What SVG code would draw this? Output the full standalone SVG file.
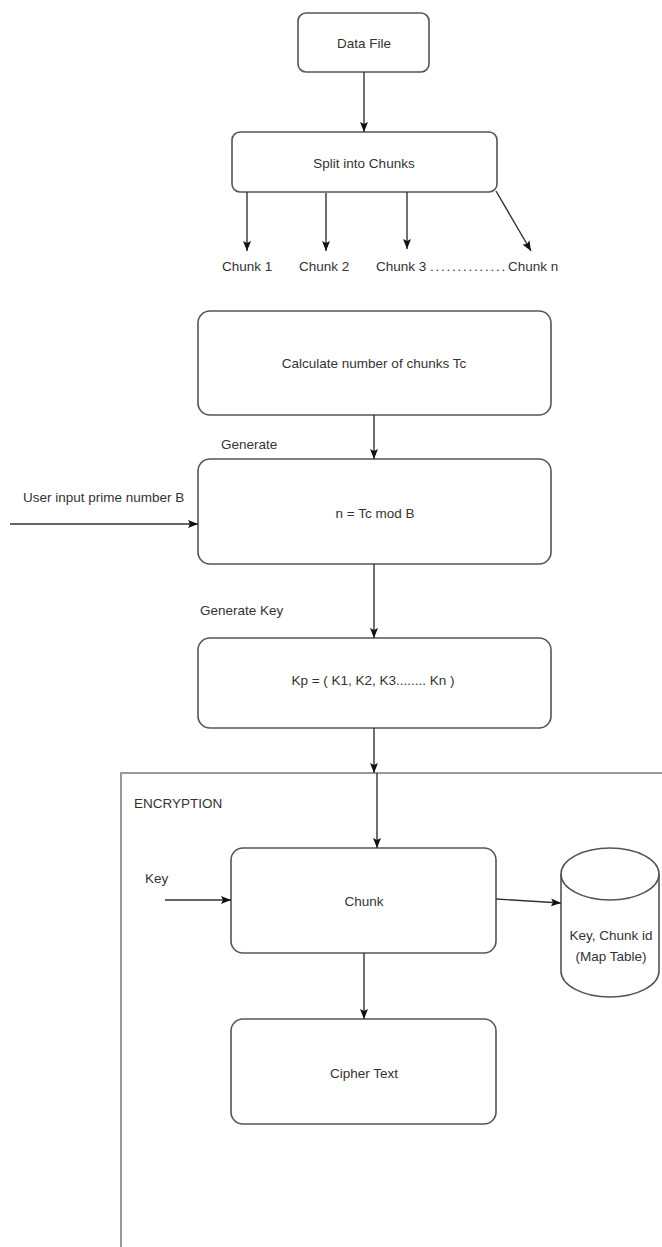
<svg xmlns="http://www.w3.org/2000/svg" width="662" height="1247" viewBox="0 0 662 1247">
<defs>
<marker id="ah" markerUnits="userSpaceOnUse" markerWidth="10" markerHeight="10" viewBox="0 0 10 10" refX="10" refY="5" orient="auto">
<path d="M0,1 L10,5 L0,9 L2,5 Z" fill="#111"/>
</marker>
</defs>
<style>
text{font-family:"Liberation Sans",Arial,sans-serif;font-size:13.5px;fill:#333}
.box{fill:#fff;stroke:#555;stroke-width:1.6}
.c{text-anchor:middle}
.conn line,.conn path{stroke:#333;stroke-width:1.4;fill:none}
.frame{fill:none;stroke:#999;stroke-width:2}
</style>
<rect width="662" height="1247" fill="#fff"/>
<g id="encryption">
<path class="frame" d="M121,1247 L121,773 L662,773"/>
<text x="134" y="808">ENCRYPTION</text>
</g>
<g id="data-file">
<rect class="box" x="298" y="13" width="131" height="59" rx="8"/>
<text class="c" x="364" y="48">Data File</text>
</g>
<g id="split">
<rect class="box" x="232" y="132" width="265" height="60" rx="8"/>
<text class="c" x="364" y="168">Split into Chunks</text>
</g>
<g id="chunk-labels">
<text x="222" y="271">Chunk 1</text>
<text x="299" y="271">Chunk 2</text>
<text x="376" y="271">Chunk 3</text>
<text x="430" y="271" style="letter-spacing:1.75px">..............</text>
<text x="508" y="271">Chunk n</text>
</g>
<g id="calculate">
<rect class="box" x="198" y="311" width="353" height="104" rx="12"/>
<text class="c" x="374" y="368">Calculate number of chunks Tc</text>
</g>
<g id="generate-label"><text x="221" y="449">Generate</text></g>
<g id="user-input-label"><text x="23" y="502">User input prime number B</text></g>
<g id="mod">
<rect class="box" x="198" y="459" width="353" height="105" rx="12"/>
<text class="c" x="375" y="518">n = Tc mod B</text>
</g>
<g id="generate-key-label"><text x="200" y="615">Generate Key</text></g>
<g id="kp">
<rect class="box" x="198" y="638" width="353" height="90" rx="12"/>
<text class="c" x="373" y="685">Kp = ( K1, K2, K3........ Kn )</text>
</g>
<g id="key-label"><text x="145" y="883">Key</text></g>
<g id="chunk">
<rect class="box" x="231" y="848" width="265" height="105" rx="12"/>
<text class="c" x="364" y="906">Chunk</text>
</g>
<g id="cipher">
<rect class="box" x="231" y="1019" width="265" height="105" rx="12"/>
<text class="c" x="364" y="1078">Cipher Text</text>
</g>
<g id="map-table">
<path class="box" d="M561,874 A49,26 0 0 1 659,874 L659,971 A49,26 0 0 1 561,971 Z"/>
<path d="M561,874 A49,26 0 0 0 659,874" fill="none" stroke="#555" stroke-width="1.6"/>
<text class="c" x="611" y="940">Key, Chunk id</text>
<text class="c" x="611" y="961">(Map Table)</text>
</g>
<g class="conn" id="connectors">
<line x1="364" y1="72" x2="364" y2="132" marker-end="url(#ah)"/>
<line x1="247" y1="192" x2="247" y2="251" marker-end="url(#ah)"/>
<line x1="326" y1="193" x2="326" y2="251" marker-end="url(#ah)"/>
<line x1="407" y1="192" x2="407" y2="249" marker-end="url(#ah)"/>
<line x1="496" y1="191" x2="531" y2="251" marker-end="url(#ah)"/>
<line x1="374" y1="415" x2="374" y2="459" marker-end="url(#ah)"/>
<line x1="10" y1="524" x2="198" y2="524" marker-end="url(#ah)"/>
<line x1="374" y1="564" x2="374" y2="638" marker-end="url(#ah)"/>
<line x1="374" y1="728" x2="374" y2="773" marker-end="url(#ah)"/>
<line x1="377" y1="773" x2="377" y2="848" marker-end="url(#ah)"/>
<line x1="165" y1="900" x2="231" y2="900" marker-end="url(#ah)"/>
<line x1="496" y1="899" x2="561" y2="903" marker-end="url(#ah)"/>
<line x1="364" y1="953" x2="364" y2="1019" marker-end="url(#ah)"/>
</g>
</svg>
